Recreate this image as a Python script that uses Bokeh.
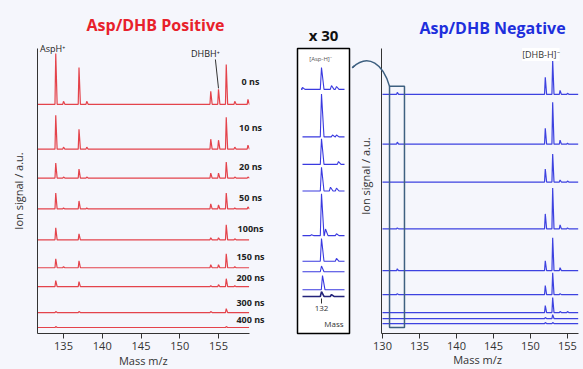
import numpy as np
from bokeh.plotting import figure
from bokeh.layouts import row
from bokeh.models import Range1d, FixedTicker, BoxAnnotation, Arrow, VeeHead
from bokeh.core.properties import value
from bokeh.embed import file_html
from bokeh.resources import INLINE

FONT = "Open Sans"
BG = "#f5f6fc"
RED = "#e4434b"
BLUE = "#3d42e0"

# ---------------- data ----------------
pos_labels = ["0 ns", "10 ns", "20 ns", "50 ns", "100ns", "150 ns", "200 ns", "300 ns", "400 ns"]
pos_offsets = [230, 185, 156, 125, 94, 66, 47, 21, 6]
pos_peak_mz = [134.0, 135.0, 137.0, 138.0, 154.0, 155.0, 156.0, 157.1, 158.8]
pos_heights = [
    [51, 3, 37, 3, 13, 15, 40, 3, 5],
    [34, 2, 20, 2, 10, 9, 32, 2, 4],
    [15, 1, 9, 1, 5, 5, 16, 1, 1],
    [16, 1, 8, 1, 5, 4, 16, 1, 2],
    [12, 0, 6, 0, 2, 2, 15, 1, 0],
    [9, 1, 7, 0, 3, 3, 14, 1, 0],
    [6, 0, 5, 0, 1, 2, 8, 1, 0],
    [1, 0, 1, 0, 1, 0, 4, 0, 0],
    [1, 0, 0, 0, 0, 0, 1, 0, 0],
]
pos_label_rise = [23, 22, 12, 11, 11, 11, 9, 10, 8]
pos_ticks = [135, 140, 145, 150, 155]

neg_offsets = [240, 190, 152, 105, 63, 39, 21, 15, 10]
neg_peak_mz = [132.0, 152.0, 153.0, 154.0, 155.0]
neg_heights = [
    [2, 17, 34, 4, 1],
    [2, 16, 42, 4, 1],
    [0, 13, 28, 2, 1],
    [1, 15, 41, 4, 1],
    [2, 10, 33, 3, 0],
    [1, 9, 22, 1, 0],
    [0, 7, 15, 1, 1],
    [0, 1, 4, 0, 0],
    [0, 1, 1, 0, 0],
]
neg_ticks = [130, 135, 140, 145, 150, 155]

inset_offsets = [257, 207, 178, 150, 103, 76, 65, 46, 39]
inset_peak_mz = [[130.1, 132.0, 133.0, 133.5], [132.0, 133.1, 133.5], [132.0, 133.7],
                 [132.0, 132.9, 133.5], [131.0, 132.0, 132.4, 133.5], [132.0, 133.5],
                 [132.0], [132.1], [132.0, 133.0]]
inset_heights = [[2, 23, 4, 3], [45, 2, 2], [27, 3], [25, 4, 3], [1, 44, 7, 2], [24, 3],
                 [6], [15], [5, 2]]
inset_ticks = [132]


def spectrum(x0, x1, mzs, hs, off, wl, wr):
    xs = [x0]
    ys = [off]
    for m, h in sorted(zip(mzs, hs)):
        if h <= 0:
            continue
        xs += [m - wl, m, m + wr]
        ys += [off, off + h, off]
    xs.append(x1)
    ys.append(off)
    return xs, ys


def txt(p, x, y, t, size, color="#333333", style="normal", align="center", angle=0.0,
        **kw):
    p.text(x=x if isinstance(x, list) else [x], y=y if isinstance(y, list) else [y],
           text=t if isinstance(t, list) else [t], angle=angle,
           text_font=value(FONT), text_font_size=value(size), text_color=color,
           text_font_style=style, text_align=align, text_baseline="middle",
           level="overlay", **kw)


def style_common(p):
    p.grid.visible = False
    p.background_fill_color = BG
    p.border_fill_color = BG
    p.outline_line_color = None


def style_xaxis(ax, ticks):
    ax.ticker = FixedTicker(ticks=ticks)
    ax.minor_tick_line_color = None
    ax.major_tick_out = 5
    ax.major_tick_in = 0
    ax.axis_line_color = "#333333"
    ax.major_tick_line_color = "#333333"
    ax.major_label_text_font = FONT
    ax.major_label_text_font_size = "11px"
    ax.major_label_text_color = "#333333"
    ax.major_label_standoff = 3


def style_yaxis(ax):
    ax.ticker = FixedTicker(ticks=[])
    ax.major_tick_out = 0
    ax.major_tick_in = 0
    ax.minor_tick_line_color = None
    ax.axis_line_color = "#333333"


# ---------------- left: positive ----------------
P1_X = (131.645, 159.0)
p1 = figure(width=283, height=369, x_range=Range1d(*P1_X), y_range=Range1d(0, 286),
            output_backend="svg", toolbar_location=None, title=None,
            min_border_left=37, min_border_right=34, min_border_top=47, min_border_bottom=36)
style_common(p1)
style_xaxis(p1.xaxis[0], pos_ticks)
style_yaxis(p1.yaxis[0])
p1.yaxis.axis_label = "Ion signal / a.u."
p1.yaxis.axis_label_text_font = FONT
p1.yaxis.axis_label_text_font_size = "11px"
p1.yaxis.axis_label_text_font_style = "normal"
p1.yaxis.axis_label_text_color = "#333333"
p1.yaxis.axis_label_standoff = 12

xs1, ys1 = [], []
for off, hs in zip(pos_offsets, pos_heights):
    xs, ys = spectrum(P1_X[0] + 0.05, P1_X[1] - 0.05, pos_peak_mz, hs, off, 0.1, 0.18)
    xs1.append(xs)
    ys1.append(ys)
p1.multi_line(xs=xs1, ys=ys1, line_color=RED, line_width=1.2)

lab_x = P1_X[1] + 0.13
txt(p1, [lab_x] * len(pos_labels), [o + r for o, r in zip(pos_offsets, pos_label_rise)],
    pos_labels, "9px", color="#222222", style="bold")

i134 = pos_peak_mz.index(134.0)
i155 = pos_peak_mz.index(155.0)
txt(p1, 134.0 - 0.4, pos_offsets[0] + pos_heights[0][i134] + 5, "AspH\u207a", "9px",
    color="#222222")
top155 = pos_offsets[0] + pos_heights[0][i155]
txt(p1, 155.0 - 1.7, top155 + 36, "DHBH\u207a", "9px", color="#222222")
p1.segment(x0=[155.0 - 0.4], y0=[top155 + 30], x1=[155.0], y1=[top155 + 1],
           line_color="#333333", line_width=1)

txt(p1, 146.87, 310, "Asp/DHB Positive", "16px", color="#e8212b", style="bold")
txt(p1, 145.3, -27, "Mass m/z", "11px")

# ---------------- middle: inset x30 ----------------
P2_X = (129.6, 134.8)
p2 = figure(width=68, height=369, x_range=Range1d(*P2_X), y_range=Range1d(0, 300),
            output_backend="svg", toolbar_location=None, title=None,
            min_border_left=14, min_border_right=2, min_border_top=42, min_border_bottom=27)
p2.grid.visible = False
p2.background_fill_color = "white"
p2.border_fill_color = BG
p2.outline_line_color = "black"
p2.outline_line_width = 1.5
p2.yaxis.visible = False
ax2 = p2.xaxis[0]
ax2.fixed_location = 37
ax2.ticker = FixedTicker(ticks=inset_ticks)
ax2.axis_line_color = None
ax2.minor_tick_line_color = None
ax2.major_tick_out = 5
ax2.major_tick_in = 0
ax2.major_tick_line_color = "#333333"
ax2.major_label_text_font = FONT
ax2.major_label_text_font_size = "8px"
ax2.major_label_text_color = "#333333"
ax2.major_label_standoff = 3

xs2, ys2 = [], []
for off, mzs, hs in zip(inset_offsets, inset_peak_mz, inset_heights):
    xs, ys = spectrum(130.1, 134.3, mzs, hs, off, 0.12, 0.25)
    xs2.append(xs)
    ys2.append(ys)
p2.multi_line(xs=xs2[:-1], ys=ys2[:-1], line_color="#3a3ae0", line_width=1.1)
p2.line(x=xs2[-1], y=ys2[-1], line_color="#23237a", line_width=1.6)

txt(p2, 131.9, 289, "[Asp-H]\u207b", "6px", color="#555555")
txt(p2, 134.2, 11, "Mass", "8px", align="right")
txt(p2, 132.2, 314, "x 30", "15px", color="#111111", style="bold")

# ---------------- right: negative ----------------
P3_X = (129.865, 156.49)
p3 = figure(width=232, height=369, x_range=Range1d(*P3_X), y_range=Range1d(0, 286),
            output_backend="svg", toolbar_location=None, title=None,
            min_border_left=30, min_border_right=5, min_border_top=48, min_border_bottom=35)
style_common(p3)
style_xaxis(p3.xaxis[0], neg_ticks)
style_yaxis(p3.yaxis[0])

xs3, ys3 = [], []
for off, hs in zip(neg_offsets, neg_heights):
    xs, ys = spectrum(130.0, P3_X[1] - 0.02, neg_peak_mz, hs, off, 0.1, 0.18)
    xs3.append(xs)
    ys3.append(ys)
p3.multi_line(xs=xs3, ys=ys3, line_color=BLUE, line_width=1.2)

ARROW_C = "#3e6080"
p3.add_layout(BoxAnnotation(left=130.95, right=132.97, bottom=6, top=248, fill_alpha=0,
                            line_color=ARROW_C, line_alpha=1.0, line_width=1.5))
p3.bezier(x0=[130.95], y0=[248], x1=[125.95], y1=[267], cx0=[130.13], cy0=[270],
          cx1=[128.11], cy1=[282], line_color=ARROW_C, line_width=1.5, level="overlay")
p3.add_layout(Arrow(x_start=126.2, y_start=268.6, x_end=125.9, y_end=266.6,
                    line_color=ARROW_C, line_width=1.5, level="overlay",
                    end=VeeHead(size=8, line_color=ARROW_C, fill_color=ARROW_C, line_width=1)))

txt(p3, 151.4, 280, "[DHB-H]\u207b", "9px", background_fill_color="white")
txt(p3, 144.87, 307, "Asp/DHB Negative", "16px", color="#1e2fdc", style="bold")
txt(p3, 127.7, 158, "Ion signal / a.u.", "11px", angle=float(np.pi / 2))
txt(p3, 142.84, -26, "Mass m/z", "11px")

layout = row(p1, p2, p3, styles={"background-color": BG})
open("out.html", "w").write(file_html(layout, INLINE))
